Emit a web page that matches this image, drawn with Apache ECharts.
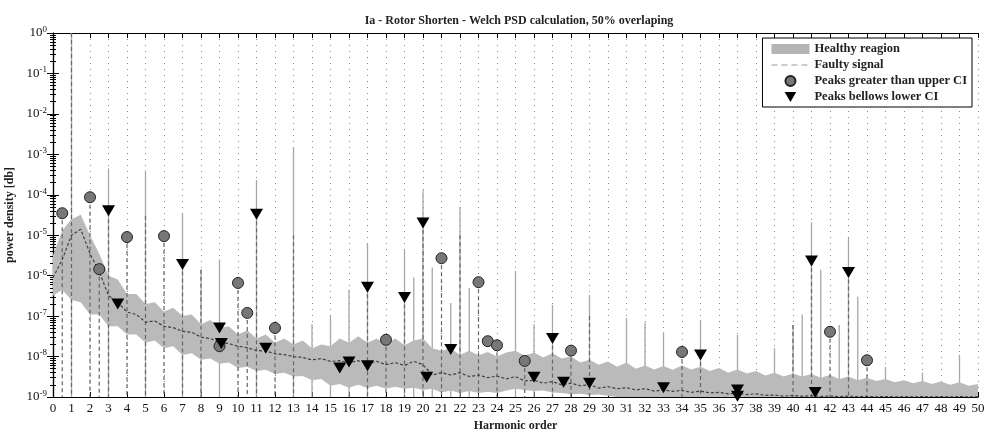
<!DOCTYPE html>
<html>
<head>
<meta charset="utf-8">
<script src="https://cdn.jsdelivr.net/npm/echarts@6/dist/echarts.min.js"></script>
<style>
  html, body { margin: 0; padding: 0; background: #fff; }
  #psdChart { width: 985px; height: 429px; }
</style>
</head>
<body>
<div id="psdChart"></div>
<script>
// sample grid of the spectrum, every half harmonic from 0 to 50
const harmonics = Array.from({ length: 101 }, (_, i) => i * 0.5);

// upper / lower edge of the healthy region
const bandHi = [
  3.2e-6, 1.3e-5, 2.5e-5, 3.2e-5, 1e-5, 3.5e-6, 1e-6, 8e-7, 3.5e-7, 3.5e-7,
  2e-7, 2.2e-7, 1.3e-7, 1.6e-7, 1e-7, 1.1e-7, 6.3e-8, 8e-8, 5e-8, 5.6e-8,
  3.5e-8, 4.5e-8, 2.8e-8, 3.5e-8, 2.2e-8, 2.8e-8, 2e-8, 2.5e-8, 1.6e-8, 2e-8,
  1.8e-8, 2.8e-8, 2.2e-8, 3.2e-8, 2.2e-8, 2.8e-8, 2e-8, 2.8e-8, 1.9e-8, 2.5e-8,
  2.8e-8, 1.6e-8, 1.4e-8, 1.6e-8, 1.1e-8, 1.4e-8, 1.07e-8, 1.3e-8, 1e-8, 1.26e-8,
  1.4e-8, 1.05e-8, 1.26e-8, 9.5e-9, 1.2e-8, 8.9e-9, 1e-8, 7.1e-9, 8.3e-9, 6.3e-9,
  7.6e-9, 5.6e-9, 7.1e-9, 5e-9, 6e-9, 4.8e-9, 5.8e-9, 4.7e-9, 6e-9, 4.8e-9,
  5.6e-9, 4.4e-9, 5.2e-9, 4e-9, 4.8e-9, 3.8e-9, 4.4e-9, 3.4e-9, 4e-9, 3.2e-9,
  3.8e-9, 3.2e-9, 3.7e-9, 3e-9, 3.5e-9, 2.8e-9, 3.2e-9, 2.6e-9, 3e-9, 2.5e-9,
  2.8e-9, 2.3e-9, 2.6e-9, 2.2e-9, 2.5e-9, 2.1e-9, 2.4e-9, 2e-9, 2.3e-9, 1.9e-9,
  2.1e-9
];
const bandLo = [
  3.2e-7, 4.5e-7, 2.5e-7, 2.2e-7, 1.1e-7, 1.1e-7, 5.6e-8, 5.6e-8, 3.5e-8, 3.5e-8,
  2.2e-8, 2.5e-8, 1.6e-8, 1.8e-8, 1.1e-8, 1.2e-8, 8.3e-9, 8.9e-9, 6.6e-9, 7.1e-9,
  5.2e-9, 5.6e-9, 4.4e-9, 4.7e-9, 3.7e-9, 4e-9, 3.2e-9, 3.3e-9, 2.6e-9, 2.8e-9,
  1.9e-9, 2.1e-9, 1.7e-9, 2e-9, 1.66e-9, 1.9e-9, 1.6e-9, 1.8e-9, 1.6e-9, 1.7e-9,
  1.5e-9, 1.6e-9, 1.3e-9, 1.45e-9, 1.26e-9, 1.4e-9, 1.26e-9, 1.35e-9, 1.26e-9, 1.45e-9,
  1.6e-9, 1.5e-9, 1.4e-9, 1.45e-9, 1.3e-9, 1.26e-9, 1.17e-9, 1.2e-9, 1.12e-9, 1.15e-9,
  1.07e-9, 1e-9, 1e-9, 1e-9, 1e-9, 1e-9, 1e-9, 1e-9, 1e-9, 1e-9,
  1e-9, 1e-9, 1e-9, 1e-9, 1e-9, 1e-9, 1e-9, 1e-9, 1e-9, 1e-9,
  1e-9, 1e-9, 1e-9, 1e-9, 1e-9, 1e-9, 1e-9, 1e-9, 1e-9, 1e-9,
  1e-9, 1e-9, 1e-9, 1e-9, 1e-9, 1e-9, 1e-9, 1e-9, 1e-9, 1e-9,
  1e-9
];
// faulty signal floor
const faulty = [
  8.9e-7, 2.5e-6, 1e-5, 1.4e-5, 3.5e-6, 1.26e-6, 3.2e-7, 2.2e-7, 1.26e-7, 1.1e-7,
  7.1e-8, 7.6e-8, 5.6e-8, 5.2e-8, 4.2e-8, 4e-8, 3e-8, 2.8e-8, 2.2e-8, 2.1e-8,
  1.8e-8, 1.66e-8, 1.4e-8, 1.38e-8, 1.17e-8, 1.12e-8, 1e-8, 9.5e-9, 8.3e-9, 8.9e-9,
  7.6e-9, 7.9e-9, 7.1e-9, 7.9e-9, 6.6e-9, 7.6e-9, 6.3e-9, 7.1e-9, 6e-9, 7.6e-9,
  6.3e-9, 3.5e-9, 4e-9, 3.5e-9, 4e-9, 3.2e-9, 3.5e-9, 3e-9, 3.3e-9, 2.8e-9,
  3.2e-9, 2.5e-9, 2.6e-9, 2.2e-9, 2.4e-9, 2e-9, 2.2e-9, 1.9e-9, 2e-9, 1.66e-9,
  1.8e-9, 1.6e-9, 1.7e-9, 1.5e-9, 1.6e-9, 1.4e-9, 1.5e-9, 1.38e-9, 1.45e-9, 1.3e-9,
  1.4e-9, 1.26e-9, 1.3e-9, 1.2e-9, 1.26e-9, 1.15e-9, 1.2e-9, 1.1e-9, 1.12e-9, 1.05e-9,
  1.1e-9, 1.04e-9, 1.08e-9, 1.03e-9, 1.06e-9, 1.02e-9, 1.05e-9, 1.02e-9, 1.04e-9, 1.01e-9,
  1.03e-9, 1.01e-9, 1.02e-9, 1.01e-9, 1.02e-9, 1.01e-9, 1.02e-9, 1.01e-9, 1.02e-9, 1.01e-9,
  1.01e-9
];

// narrow peaks [harmonic, top]
const healthyPeaks = [
  [1, 1], [3, 4.5e-4], [5, 4e-4], [7, 3.5e-5], [8, 1.4e-6], [9, 2.5e-6], [11, 2.3e-4],
  [13, 1.5e-3], [14, 6.3e-8], [15, 1e-7], [16, 4.5e-7], [17, 6.3e-6], [19, 4.3e-6],
  [19.5, 9e-7], [20, 1.3e-4], [20.5, 1.6e-6], [21.5, 2.1e-7], [22, 5e-5], [22.5, 5e-7],
  [25, 1.3e-6], [26, 6.3e-8], [27, 1.9e-7], [29, 3.3e-7], [31, 9e-8], [32, 7e-8],
  [33, 4e-8], [35, 8e-8], [37, 3.4e-8], [39, 1.6e-8], [40, 6e-8], [40.5, 1.1e-7],
  [41, 2.1e-5], [41.5, 1.4e-6], [42.5, 6e-8], [43, 8.5e-6], [43.5, 3e-7], [45, 5.5e-9],
  [47, 4e-9], [49, 1.1e-8]
];
const faultyPeaks = [
  [0.5, 3.5e-5], [1, 1], [2, 8.5e-5], [2.5, 1.4e-6], [3, 3.7e-5], [4, 9e-6], [5, 3e-5],
  [6, 9.5e-6], [7, 1.9e-6], [8, 1.4e-6], [10, 6.6e-7], [10.5, 1.2e-7], [11, 3.3e-5],
  [12, 5e-8], [13, 1e-5], [17, 5.2e-7], [18, 2.6e-8], [19, 2.9e-7], [20, 2e-5],
  [21, 2.7e-6], [22, 1e-5], [23, 6.9e-7], [24, 1.9e-8], [25.5, 7.8e-9], [27, 2.8e-8],
  [28, 1.4e-8], [29, 1e-7], [34, 1.3e-8], [35, 1.1e-8], [40, 6e-8], [41, 2.3e-6],
  [42, 4.1e-8], [43, 1.2e-6], [44, 8.1e-9]
];

const upperCI = [
  [0.5, 3.5e-5], [2, 8.7e-5], [2.5, 1.45e-6], [4, 9e-6], [6, 9.5e-6], [9, 1.8e-8],
  [10, 6.6e-7], [10.5, 1.2e-7], [12, 5.1e-8], [18, 2.6e-8], [21, 2.7e-6], [23, 6.9e-7],
  [23.5, 2.4e-8], [24, 1.9e-8], [25.5, 7.8e-9], [28, 1.4e-8], [34, 1.3e-8], [42, 4.1e-8],
  [44, 8.1e-9]
];
const lowerCI = [
  [3, 4e-5], [3.5, 2e-7], [7, 1.9e-6], [9, 5.1e-8], [9.1, 2.1e-8], [11, 3.3e-5],
  [11.5, 1.6e-8], [15.5, 5.2e-9], [16, 7.3e-9], [17, 5.2e-7], [17, 5.9e-9], [19, 2.9e-7],
  [20, 2e-5], [20.2, 3.1e-9], [21.5, 1.5e-8], [26, 3.1e-9], [27, 2.8e-8], [27.6, 2.3e-9],
  [29, 2.2e-9], [33, 1.7e-9], [35, 1.1e-8], [37, 1.5e-9], [37, 1.05e-9], [41, 2.3e-6],
  [41.2, 1.3e-9], [43, 1.2e-6]
];

const serif = "'Liberation Serif', 'DejaVu Serif', serif";
const triDown = "path://M0,0L10,0L5,8.66Z";
// dashed line icon for the legend, padded to a 38x10 box
const dashIcon = "path://M0,0h0.01v0.01h-0.01zM37.99,9.99h0.01v0.01h-0.01z" +
  "M0,4.5h6v1h-6zM10,4.5h6v1h-6zM20,4.5h6v1h-6zM30,4.5h6v1h-6z";

let psdChart = echarts.init(document.getElementById("psdChart"));

function spike(stroke, width, dash) {
  return function (params, api) {
    const top = api.coord([api.value(0), api.value(1)]);
    const bottom = api.coord([api.value(0), 1e-9]);
    return {
      type: "line",
      shape: { x1: top[0], y1: top[1], x2: bottom[0], y2: bottom[1] },
      style: { stroke: stroke, lineWidth: width, lineDash: dash }
    };
  };
}

const option = {
  animation: false,
  title: {
    text: "Ia - Rotor Shorten - Welch PSD calculation, 50% overlaping",
    left: 514,
    textAlign: "center",
    top: 10,
    textStyle: { fontFamily: serif, fontSize: 12, fontWeight: "bold", color: "#222" }
  },
  grid: { left: 53, right: 7, top: 33, bottom: 32, outerBoundsMode: "none" },
  legend: {
    right: 13,
    top: 38,
    orient: "vertical",
    backgroundColor: "#fff",
    borderColor: "#000",
    borderWidth: 1,
    padding: [4, 5, 3, 9],
    itemGap: 2,
    itemWidth: 38,
    itemHeight: 10,
    textStyle: { fontFamily: serif, fontSize: 12.5, fontWeight: "bold", color: "#222", lineHeight: 14 },
    data: [
      { name: "Healthy reagion", icon: "rect" },
      { name: "Faulty signal", icon: dashIcon },
      { name: "Peaks greater than upper CI", icon: "circle" },
      { name: "Peaks bellows lower CI", icon: triDown }
    ]
  },
  xAxis: [
    {
      type: "value",
      min: 0,
      max: 50,
      interval: 1,
      position: "bottom",
      name: "Harmonic order",
      nameLocation: "middle",
      nameGap: 23,
      nameTextStyle: { fontFamily: serif, fontSize: 12, fontWeight: "bold", color: "#222" },
      axisLine: { lineStyle: { color: "#000", width: 1.2 } },
      axisTick: { inside: true, length: 5, lineStyle: { color: "#000" } },
      axisLabel: { margin: 5, fontFamily: serif, fontSize: 13, color: "#111" },
      splitLine: { show: true, lineStyle: { type: [1, 5], color: "#888" } }
    },
    {
      type: "value",
      min: 0,
      max: 50,
      interval: 1,
      position: "top",
      axisLine: { lineStyle: { color: "#000", width: 1.2 } },
      axisTick: { inside: true, length: 5, lineStyle: { color: "#000" } },
      axisLabel: { show: false },
      splitLine: { show: false }
    }
  ],
  yAxis: [
    {
      type: "log",
      logBase: 10,
      min: 1e-9,
      max: 1,
      interval: 1,
      name: "power density [db]",
      nameLocation: "middle",
      nameGap: 37,
      nameTextStyle: { fontFamily: serif, fontSize: 12, fontWeight: "bold", color: "#222" },
      axisLine: { lineStyle: { color: "#000", width: 1.2 } },
      axisTick: { inside: true, length: 6, lineStyle: { color: "#000" } },
      minorTick: { show: true, splitNumber: 9, length: 3, lineStyle: { color: "#000" } },
      axisLabel: {
        margin: 6,
        formatter: function (v) {
          const e = Math.round(Math.log10(v));
          return "{b|10}{s|" + e + "}";
        },
        rich: {
          b: { fontFamily: serif, fontSize: 13, color: "#111" },
          s: { fontFamily: serif, fontSize: 9, color: "#111", verticalAlign: "top", padding: [0, 0, 7, 0] }
        }
      },
      splitLine: { show: false }
    },
    {
      type: "log",
      logBase: 10,
      min: 1e-9,
      max: 1,
      interval: 1,
      position: "right",
      axisLine: { show: true, lineStyle: { color: "#000", width: 1.2 } },
      axisTick: { inside: true, length: 6, lineStyle: { color: "#000" } },
      minorTick: { show: true, splitNumber: 9, length: 3, lineStyle: { color: "#000" } },
      axisLabel: { show: false },
      splitLine: { show: false }
    }
  ],
  series: [
    {
      name: "healthy peaks",
      type: "custom",
      z: 1,
      clip: true,
      renderItem: spike("#a8a8a8", 1.3, null),
      data: healthyPeaks
    },
    {
      name: "Healthy reagion",
      type: "custom",
      z: 2,
      clip: true,
      itemStyle: { color: "#b4b4b4" },
      renderItem: function (params, api) {
        if (params.dataIndex !== 0) return;
        const pts = [];
        for (let i = 0; i < harmonics.length; i++) {
          pts.push(api.coord([harmonics[i], bandHi[i]]));
        }
        for (let i = harmonics.length - 1; i >= 0; i--) {
          pts.push(api.coord([harmonics[i], bandLo[i]]));
        }
        return { type: "polygon", shape: { points: pts }, style: { fill: "#bababa" } };
      },
      data: harmonics.map((h, i) => [h, bandHi[i], bandLo[i]])
    },
    {
      name: "Faulty signal",
      type: "line",
      z: 3,
      symbol: "none",
      itemStyle: { color: "#999" },
      lineStyle: { color: "#404040", width: 1.2, type: [3, 2] },
      data: harmonics.map((h, i) => [h, faulty[i]])
    },
    {
      name: "faulty peaks",
      type: "custom",
      z: 3,
      clip: true,
      renderItem: spike("#666", 1.2, [4, 3]),
      data: faultyPeaks
    },
    {
      name: "Peaks greater than upper CI",
      type: "scatter",
      z: 5,
      symbol: "circle",
      symbolSize: 11,
      itemStyle: { color: "#777", borderColor: "#222", borderWidth: 1, opacity: 1 },
      data: upperCI
    },
    {
      name: "Peaks bellows lower CI",
      type: "scatter",
      z: 6,
      symbol: triDown,
      symbolSize: [13, 11],
      itemStyle: { color: "#000", opacity: 1 },
      data: lowerCI
    }
  ]
};

psdChart.setOption(option);

window.addEventListener("resize", function () {
  psdChart.resize();
});
</script>
</body>
</html>
